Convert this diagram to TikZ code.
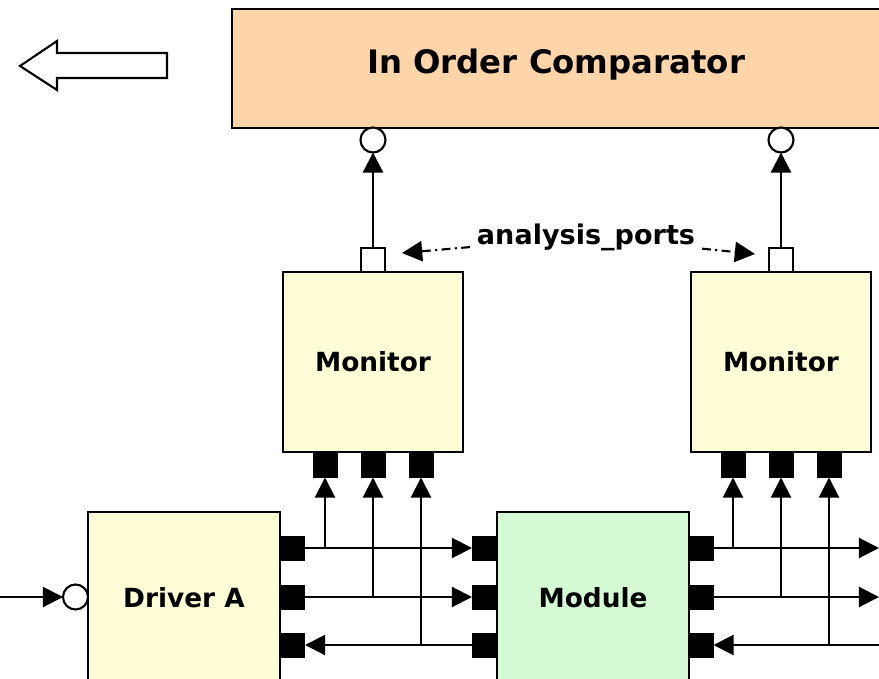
\documentclass[tikz,border=0pt]{standalone}
\usepackage{fontspec}
\setmainfont{DejaVu Sans}
\usetikzlibrary{arrows.meta}
\definecolor{peach}{RGB}{254,213,168}
\definecolor{cream}{RGB}{255,253,213}
\definecolor{mint}{RGB}{213,251,213}

\begin{document}
\begin{tikzpicture}[x=0.02cm, y=-0.02cm, line width=1.2pt]
\tikzset{ >={Triangle[length=11.5pt,width=11.5pt]}, inner sep=0pt, outer sep=0pt,
  blk/.style={draw, rectangle, font=\bfseries\fontsize{15}{18}\selectfont},
  pinbox/.style={fill=black, rectangle, minimum size=0.5cm},
  portbox/.style={draw, fill=white, rectangle, minimum size=0.48cm},
  socket/.style={draw, fill=white, circle, minimum size=0.5cm},
  dashdot/.style={dash pattern=on 5pt off 2.5pt on 1.2pt off 2.5pt},
}

\useasboundingbox (0,0) rectangle (879,679);
\clip (0,0) rectangle (879,679);
%\draw [lightgray, dashed](0,0) grid (879,679);

\draw (20,66) -- (57,41) -- (57,53) -- (167,53) -- (167,78) -- (57,78) -- (57,90) -- cycle;

\node [blk, fill=peach, minimum width=12.96cm, minimum height=2.38cm, text depth=8pt, font=\bfseries\fontsize{18.4}{21}\selectfont] (C) at (556,68.5) {In Order Comparator};

\node [blk, fill=cream, minimum size=3.6cm] (Ma) at (373,362) {Monitor};
\node [blk, fill=cream, minimum size=3.6cm] (Mb) at (781,362) {Monitor};
\node [blk, fill=cream, minimum width=3.84cm, minimum height=3.44cm] (D) at (184,598) {Driver A};
\node [blk, fill=mint,  minimum width=3.84cm, minimum height=3.44cm] (M) at (593,598) {Module};

\node [portbox] (pa) at (373,260) {};
\node [portbox] (pb) at (781,260) {};
\node [socket] (ca) at (373,140) {};
\node [socket] (cb) at (781,140) {};
\node [socket] (ci) at (75.5,597) {};
\coordinate (in) at (0,597);

\foreach \x [count=\i] in {325,373,421} \node [pinbox] (a\i) at (\x,465) {};
\foreach \x [count=\i] in {733,781,829} \node [pinbox] (b\i) at (\x,465) {};
\foreach \y [count=\i] in {548,597,645} {
  \node [pinbox] (d\i) at (292.5,\y) {};
  \node [pinbox] (l\i) at (484.5,\y) {};
  \node [pinbox] (r\i) at (701,\y) {};
  \coordinate (e\i) at (879,\y);
}

\draw [->] (pa) -- (ca);
\draw [->] (pb) -- (cb);
\draw [->] (in) -- (ci);

\draw [->] (d1) -- (l1);
\draw [->] (d2) -- (l2);
\draw [->] (l3) -- (d3);
\draw [->] (r1) -- (e1);
\draw [->] (r2) -- (e2);
\draw [->] (e3) -- (r3);

\foreach \i in {1,2,3} {
  \draw [->] (d\i -| a\i) -- (a\i);
  \draw [->] (r\i -| b\i) -- (b\i);
}

\node [font=\bfseries\fontsize{15.4}{18}\selectfont, inner sep=4pt] (ap) at (586,237) {analysis\_ports};
\coordinate (ta) at (402,253);
\coordinate (tb) at (755,254);
\draw [->, dashdot] (ap) -- (ta);
\draw [->, dashdot] (ap) -- (tb);

\end{tikzpicture}
\end{document}
